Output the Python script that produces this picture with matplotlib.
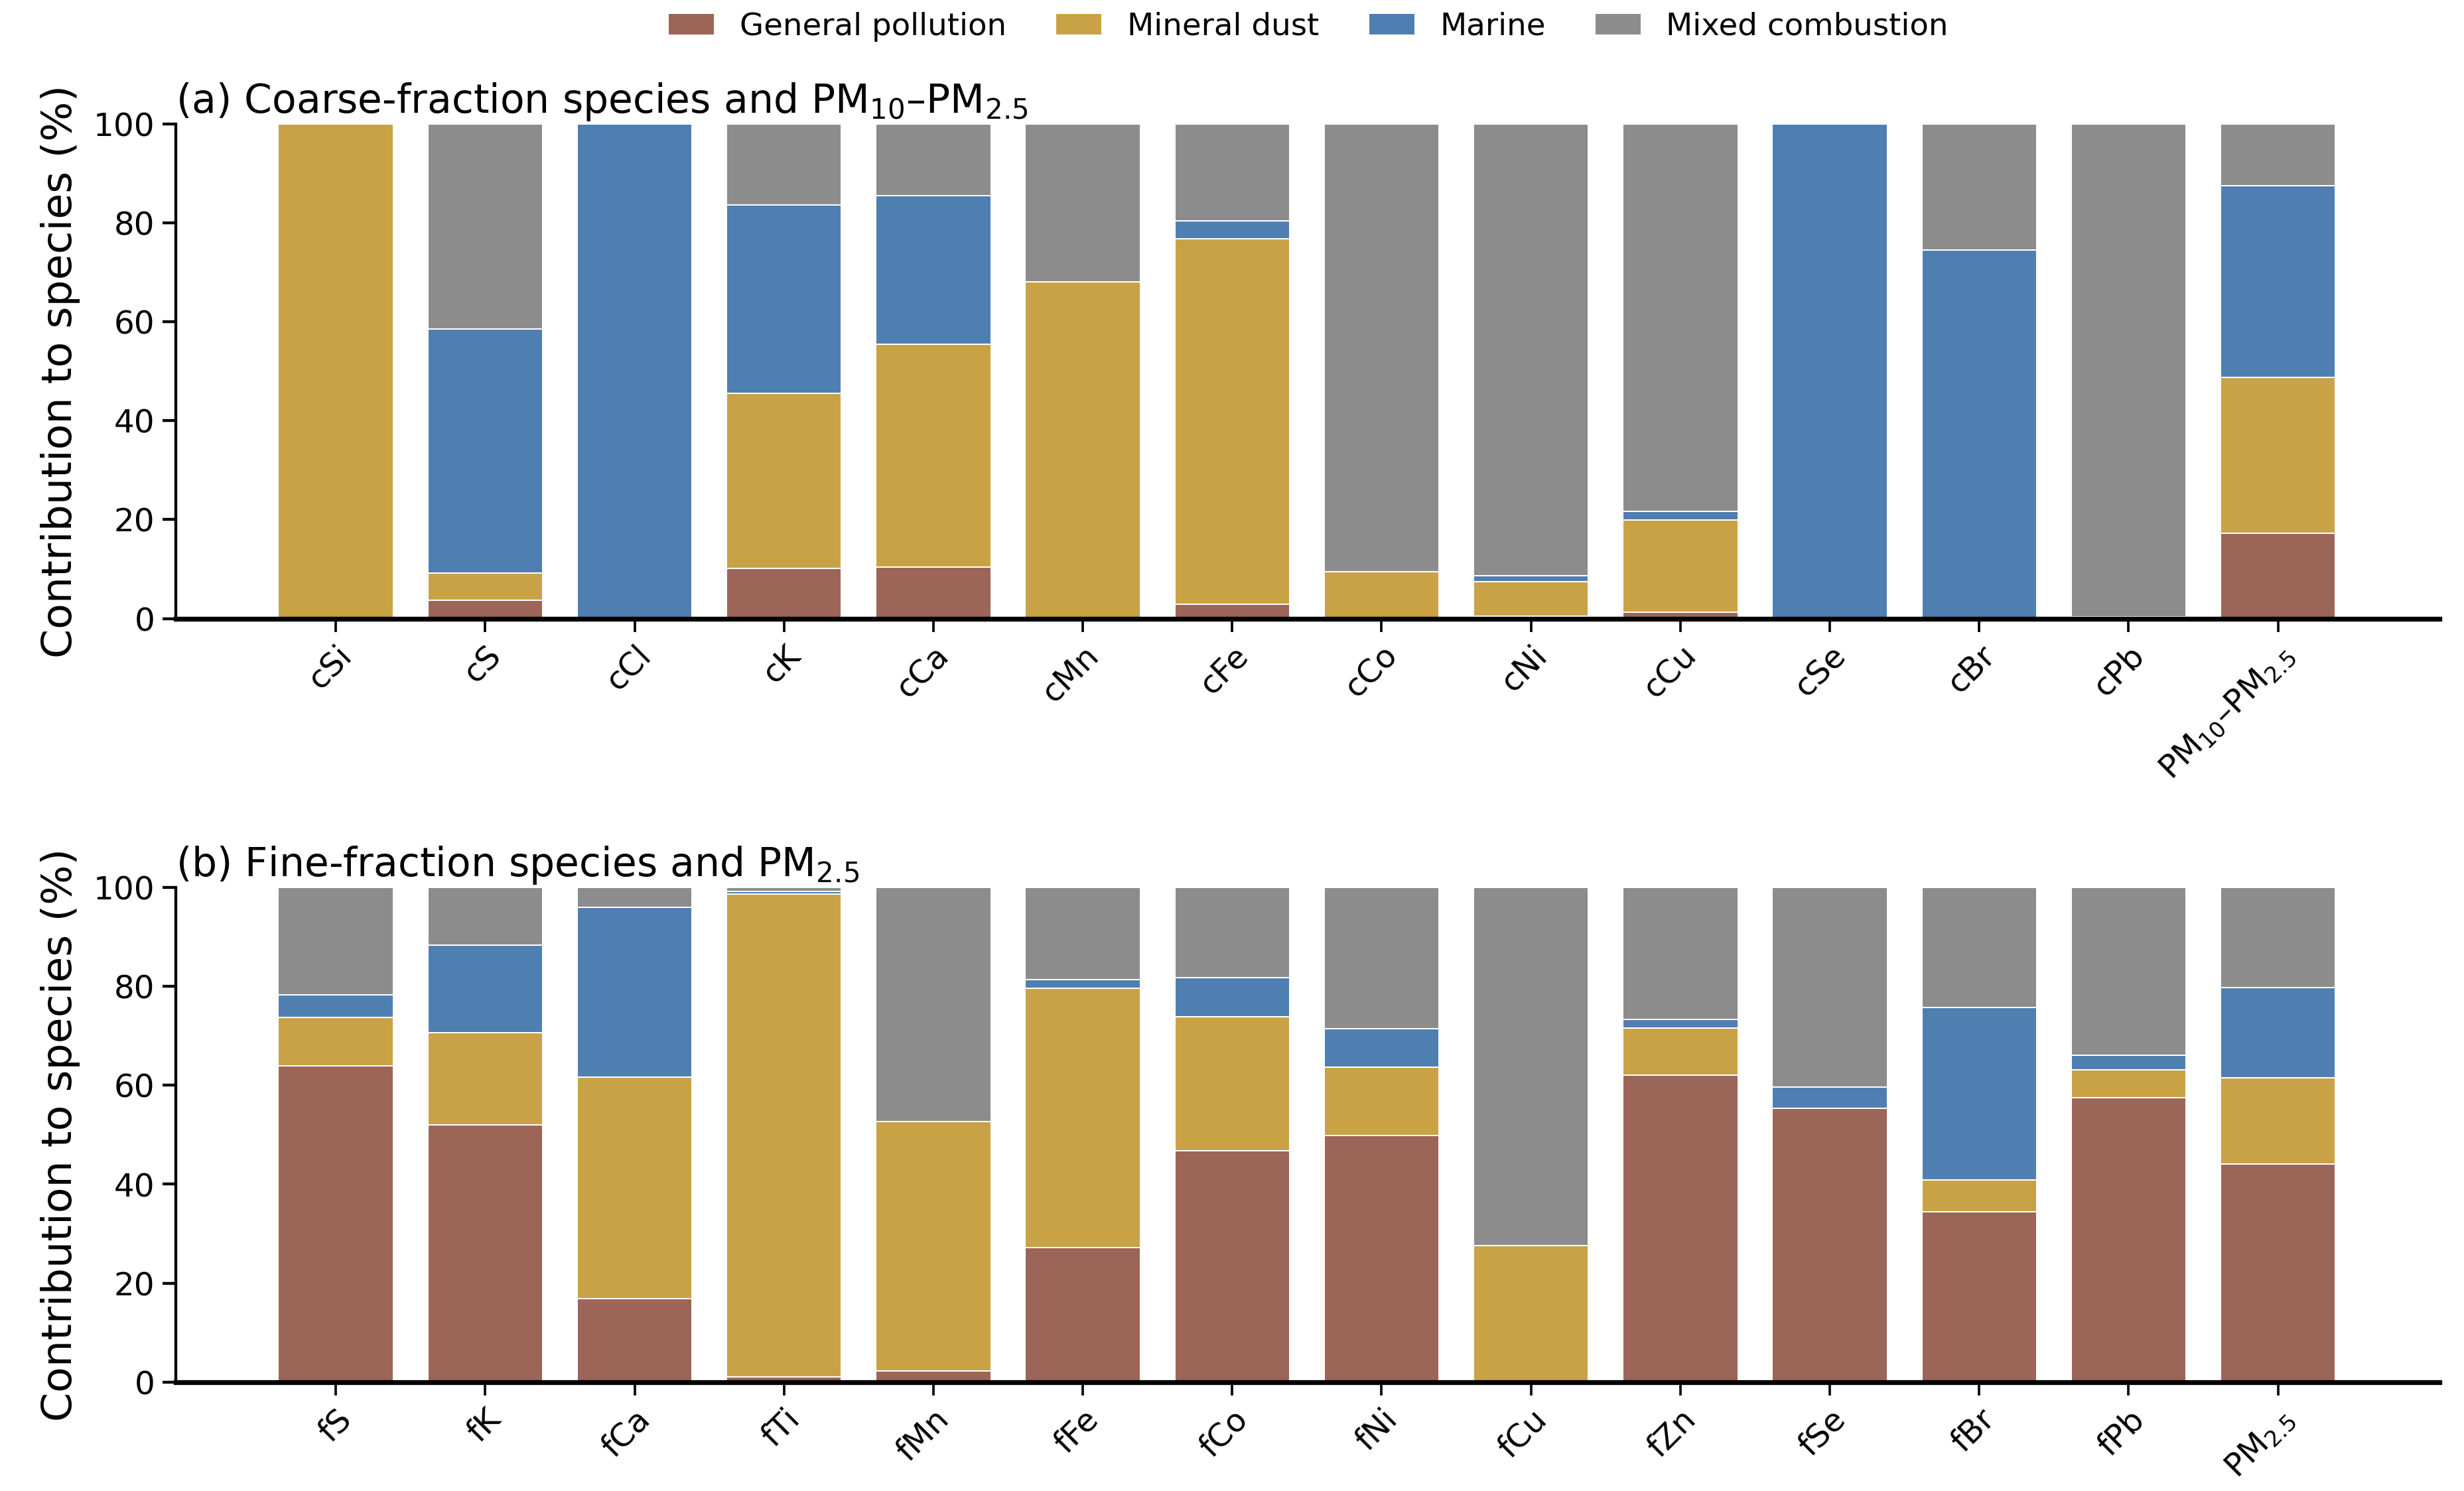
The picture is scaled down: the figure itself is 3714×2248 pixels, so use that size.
import numpy as np
import matplotlib
matplotlib.use('Agg')
import matplotlib.pyplot as plt

plt.rcParams['font.family'] = ['DejaVu Sans']

sources = ['General pollution', 'Mineral dust', 'Marine', 'Mixed combustion']
colors = ['#9b6558', '#c9a246', '#4f7fb0', '#8c8c8c']

# (a) coarse fraction
coarse_species = ['cSi', 'cS', 'cCl', 'cK', 'cCa', 'cMn', 'cFe', 'cCo', 'cNi',
                  'cCu', 'cSe', 'cBr', 'cPb', 'PM$_{10}$–PM$_{2.5}$']
coarse_general = [0, 3.7, 0, 10.1, 10.4, 0, 2.9, 0, 0.5, 1.3, 0, 0, 0, 17.3]
coarse_mineral = [100, 5.5, 0, 35.4, 45.1, 68.1, 73.8, 9.4, 7.0, 18.6, 0, 0, 0, 31.4]
coarse_marine = [0, 49.3, 100, 38.1, 29.9, 0, 3.6, 0, 1.1, 1.7, 100, 74.5, 0.3, 38.8]
coarse_mixed = [0, 41.5, 0, 16.4, 14.6, 31.9, 19.7, 90.6, 91.4, 78.4, 0, 25.5, 99.7, 12.5]

# (b) fine fraction
fine_species = ['fS', 'fK', 'fCa', 'fTi', 'fMn', 'fFe', 'fCo', 'fNi', 'fCu',
                'fZn', 'fSe', 'fBr', 'fPb', 'PM$_{2.5}$']
fine_general = [63.9, 52.0, 16.9, 1.0, 2.2, 27.2, 46.8, 49.8, 0, 62.0, 55.4, 34.4, 57.5, 44.1]
fine_mineral = [9.8, 18.6, 44.7, 97.6, 50.4, 52.4, 27.1, 13.9, 27.6, 9.6, 0, 6.4, 5.6, 17.4]
fine_marine = [4.6, 17.7, 34.3, 0.6, 0, 1.8, 7.8, 7.7, 0, 1.7, 4.2, 34.9, 2.9, 18.2]
fine_mixed = [21.7, 11.7, 4.1, 0.8, 47.4, 18.6, 18.3, 28.6, 72.4, 26.7, 40.4, 24.3, 34.0, 20.3]

fig, axes = plt.subplots(2, 1, figsize=(15.475, 9.367), dpi=240)
fig.subplots_adjust(left=0.0714, right=0.990, top=0.917, bottom=0.073, hspace=0.543)

panels = [
    (axes[0], coarse_species, [coarse_general, coarse_mineral, coarse_marine, coarse_mixed],
     '(a) Coarse-fraction species and PM$_{10}$–PM$_{2.5}$'),
    (axes[1], fine_species, [fine_general, fine_mineral, fine_marine, fine_mixed],
     '(b) Fine-fraction species and PM$_{2.5}$'),
]

for ax, species, parts, title in panels:
    x = np.arange(len(species))
    bottom = np.zeros(len(species))
    for vals, lab, col in zip(parts, sources, colors):
        vals = np.array(vals, dtype=float)
        ax.bar(x, vals, width=0.77, bottom=bottom, color=col, label=lab,
               edgecolor='white', linewidth=0.6)
        bottom += vals
    ax.set_xlim(-1.07, 14.08)
    ax.set_ylim(0, 100)
    ax.set_xticks(x)
    ax.set_xticklabels(species, rotation=45, ha='right', rotation_mode='anchor',
                       fontsize=14.5)
    ax.set_yticks([0, 20, 40, 60, 80, 100])
    ax.tick_params(axis='y', labelsize=14.5, length=6, width=1.3)
    ax.tick_params(axis='x', length=6, width=1.1)
    ax.set_ylabel('Contribution to species (%)', fontsize=19, labelpad=6)
    ax.set_title(title, loc='left', fontsize=18, pad=5)
    ax.spines['top'].set_visible(False)
    ax.spines['right'].set_visible(False)
    ax.spines['left'].set_linewidth(1.3)
    ax.spines['bottom'].set_linewidth(2.2)

handles, labels = axes[0].get_legend_handles_labels()
fig.legend(handles, labels, loc='center', bbox_to_anchor=(0.531, 0.982), ncol=4,
           frameon=False, fontsize=14, handlelength=1.5, columnspacing=1.6)

fig.savefig('out.png', dpi=240)
